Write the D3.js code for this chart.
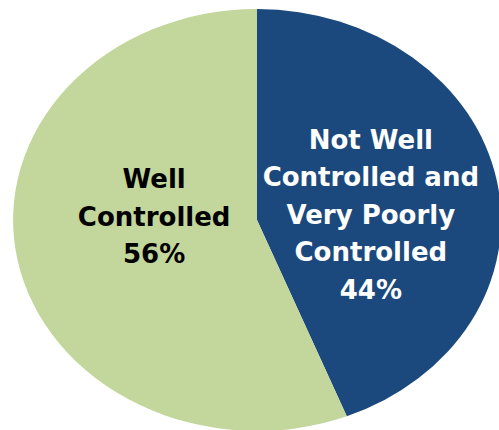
<!DOCTYPE html>
<html>
<head>
<meta charset="utf-8">
<script src="https://cdn.jsdelivr.net/npm/d3@7"></script>
<style>
  html, body { margin: 0; padding: 0; background: #fff; }
  svg { display: block; }
</style>
</head>
<body>
<div id="vis"></div>
<script>
// Data
var categories = ['Not Well Controlled and Very Poorly Controlled', 'Well Controlled'];
var values = [44, 56];
var labelLines = [
  ['Not Well', 'Controlled and', 'Very Poorly', 'Controlled', '44%'],
  ['Well', 'Controlled', '56%'],
];
var colors = ['#1c497d', '#c3d69b'];
var textColors = ['#ffffff', '#000000'];

var width = 499;
var height = 430;
var cx = 257;
var cy = 220;
var rx = 244;
var ry = 211;
var lineHeight = 37.5;

var svg = d3
  .select('#vis')
  .append('svg')
  .attr('width', width)
  .attr('height', height);

var pie = d3
  .pie()
  .sort(null)
  .value(d => d);

var arcs = pie(values);

// unit circle arc, stretched into the ellipse with a scale
var arc = d3.arc().innerRadius(0).outerRadius(1);

svg
  .append('g')
  .attr('transform', `translate(${cx}, ${cy}) scale(${rx}, ${ry})`)
  .selectAll('path')
  .data(arcs)
  .enter()
  .append('path')
  .attr('d', arc)
  .style('fill', (d, i) => colors[i]);

// label anchor in units of the radius (x along rx, y along ry)
var labelArc = d3.arc().innerRadius(0).outerRadius(0.95);
var labelShift = [
  [0, 0.065],
  [0.045, -0.104],
];

var labels = svg
  .append('g')
  .selectAll('text')
  .data(arcs)
  .enter()
  .append('text')
  .attr('text-anchor', 'middle')
  .style('font-family', 'DejaVu Sans, Verdana, sans-serif')
  .style('font-weight', 'bold')
  .style('font-size', '26px')
  .style('fill', (d, i) => textColors[i])
  .each(function(d, i) {
    var c = labelArc.centroid(d);
    var x = cx + (c[0] + labelShift[i][0]) * rx;
    var y = cy + (c[1] + labelShift[i][1]) * ry;
    var lines = labelLines[i];
    var top = y - ((lines.length - 1) * lineHeight) / 2 + 9;
    d3.select(this)
      .selectAll('tspan')
      .data(lines)
      .enter()
      .append('tspan')
      .attr('x', x)
      .attr('y', (l, j) => top + j * lineHeight)
      .text(l => l);
  });
</script>
</body>
</html>
